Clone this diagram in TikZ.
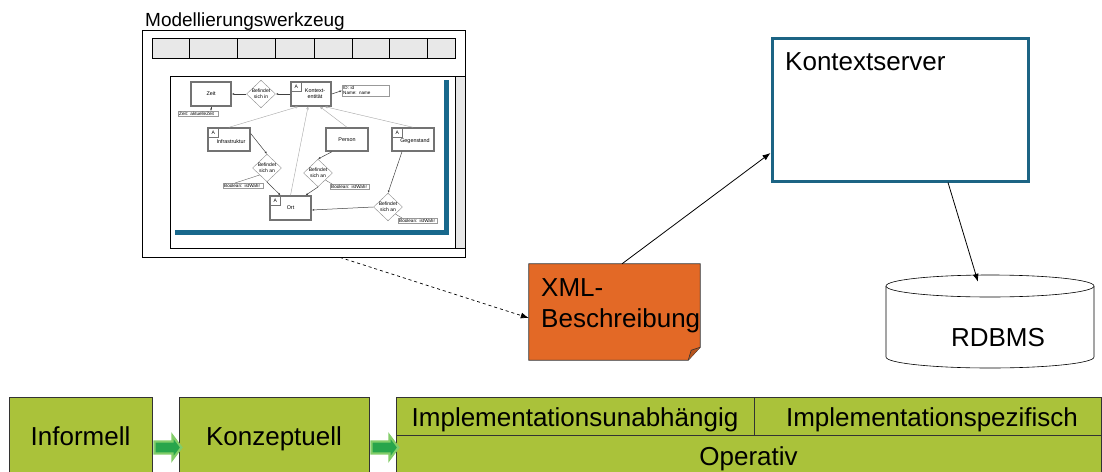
\documentclass[tikz,border=0pt]{standalone}
\usepackage{fontspec}
\setmainfont{Liberation Sans}
\usetikzlibrary{arrows.meta,calc,shapes.geometric}
\definecolor{olive}{RGB}{170,194,58}
\definecolor{xmlorange}{RGB}{227,105,38}
\definecolor{teal}{RGB}{28,100,132}
\definecolor{barblue}{RGB}{24,104,140}
\definecolor{toolgray}{RGB}{232,232,232}
\definecolor{arrlight}{RGB}{130,205,105}
\definecolor{arrdark}{RGB}{40,165,75}
\begin{document}
\begin{tikzpicture}[x=1pt,y=-1pt,
  bigtext/.style={font=\fontsize{26}{31}\selectfont},
  phase/.style={draw=black!80, fill=olive, line width=0.8pt, inner sep=0},
  mbox/.style={draw=black!55, line width=1.4pt, fill=white, inner sep=0,
    font=\fontsize{5.4}{6.2}\selectfont, align=center},
  mdia/.style={diamond, draw=black!45, line width=0.4pt, fill=white, inner sep=0,
    minimum width=29pt, minimum height=27pt, font=\fontsize{5}{5.6}\selectfont, align=center},
  mlab/.style={draw=black!40, line width=0.4pt, fill=white, inner sep=1pt,
    font=\fontsize{4.6}{5.4}\selectfont, align=left, anchor=north west},
  amark/.style={draw=black!55, line width=0.5pt, fill=white, minimum width=10pt,
    minimum height=9pt, inner sep=0, font=\fontsize{5}{5}\selectfont, anchor=north west},
  mline/.style={draw=black!75, line width=0.5pt, -{Latex[length=2.5pt,width=2pt]}},
  gline/.style={draw=black!35, line width=0.4pt, -{Triangle[open,length=2.5pt,width=2.5pt]}},
  blockarrow/.style={fill=arrdark, draw=arrlight, line width=2.2pt, line join=miter}
]
\useasboundingbox (0,0) rectangle (1102,471);

% ---------------- Modellierungswerkzeug window ----------------
\node[anchor=base west, inner sep=0, font=\fontsize{19}{22}\selectfont] (title) at (145,26) {Modellierungswerkzeug};
\node[draw=black, line width=0.8pt, minimum width=323pt, minimum height=227pt, inner sep=0] (win) at (303.5,143.5) {};
% toolbar
\draw[fill=toolgray, line width=0.8pt] (152,38) rectangle (455,58);
\foreach \xx in {189,237,275,314,352,389,427} \draw[line width=0.8pt] (\xx,38) -- (\xx,58);
% canvas + scrollbar
\draw[line width=0.8pt, fill=white] (170,76) rectangle (455,248);
\draw[line width=0.8pt, fill=toolgray] (455,76) rectangle (465,248);
% blue L
\fill[barblue] (444,80) rectangle (449,235);
\fill[barblue] (175,230) rectangle (449,235);

% mini diagram nodes
\node[mbox, minimum width=40pt, minimum height=24pt] (zeit) at (211,94) {Zeit};
\node[mlab, text width=38pt] (zlab) at (178,111) {Zeit: aktuelleZeit};
\node[mdia] (din) at (261,94) {Befindet\\sich in};
\node[mbox, minimum width=40pt, minimum height=24pt] (kont) at (311,94) {\hspace*{8pt}Kontext-\\\hspace*{8pt}entität};
\node[amark] (akont) at (291,82) {A};
\node[mlab, text width=45pt] (idb) at (342,85) {ID: id\\Name: name};
\node[mbox, minimum width=42pt, minimum height=23pt] (infra) at (229,139.5) {\\[1pt]\hspace*{4pt}Infrastruktur};
\node[amark] (ainfra) at (208,128) {A};
\node[mbox, minimum width=42pt, minimum height=23pt] (person) at (347,139.5) {Person};
\node[mbox, minimum width=42pt, minimum height=23pt] (geg) at (413,139.5) {\\[1pt]\hspace*{4pt}Gegenstand};
\node[amark] (ageg) at (392,128) {A};
\node[mdia] (dan1) at (267,168) {Befindet\\sich an};
\node[mlab, text width=38pt] (b1) at (223,183) {Boolean: istWahr};
\node[mdia] (dan2) at (318,173) {Befindet\\sich an};
\node[mlab, text width=37pt] (b2) at (330,184) {Boolean: istWahr};
\node[mbox, minimum width=41pt, minimum height=24pt] (ort) at (290.5,208) {Ort};
\node[amark] (aort) at (270,196) {A};
\node[mdia] (dan3) at (388,207) {Befindet\\sich an};
\node[mlab, text width=37pt] (b3) at (398,218) {Boolean: istWahr};

% mini diagram connectors
\draw[mline] (kont.west) -- (din.east);
\draw[mline] (din.west) -- (zeit.east);
\draw[mline] (zeit.south) -- (zeit.south |- zlab.north);
\draw[mline] (kont.east) -- (idb.west);
\draw[gline] (infra.north) -- ([xshift=-13pt]kont.south);
\draw[gline] (ort.north) -- ([xshift=-3pt]kont.south);
\draw[gline] (person.north) -- ([xshift=9pt]kont.south);
\draw[gline] (geg.north) -- ([xshift=14pt]kont.south);
\draw[mline] ([yshift=6pt]infra.east) -- (dan1.north);
\draw[mline] (dan1.south) -- ([xshift=-10pt]ort.north);
\draw[mline] ([xshift=-15pt]person.south) -- (dan2.north);
\draw[mline] (dan2.south) -- ([xshift=15pt]ort.north);
\draw[mline] ([xshift=-11pt]geg.south) -- (dan3.north);
\draw[mline] (dan3.west) -- ([yshift=-2pt]ort.east);
\draw[black!60, line width=0.4pt] (dan1.south west) -- ([xshift=12pt]b1.north west);
\draw[black!60, line width=0.4pt] (dan2.south east) -- ([xshift=2pt]b2.north west);
\draw[black!60, line width=0.4pt] (dan3.south east) -- ([xshift=4pt]b3.north west);

% ---------------- XML description ----------------
\node[minimum width=171pt, minimum height=96pt, inner sep=0] (xml) at (614.5,312) {};
\draw[fill=xmlorange, draw=black!80, line width=0.8pt]
  (xml.north west) -- (xml.north east) -- ([yshift=13pt]xml.south east)
  -- ([xshift=-12pt]xml.south east) -- (xml.south west) -- cycle;
\draw[fill=xmlorange!80!black, draw=black!80, line width=0.6pt]
  ([yshift=13pt]xml.south east) -- ([xshift=-9pt,yshift=10pt]xml.south east) -- ([xshift=-12pt]xml.south east);
\node[bigtext, anchor=north west, align=left, inner sep=0] (xmltext) at (541,278) {XML-\\Beschreibung};

% ---------------- Kontextserver ----------------
\node[draw=teal, line width=3pt, fill=white, minimum width=256pt, minimum height=143pt, inner sep=0] (ks) at (900,109.5) {};
\node[bigtext, anchor=base west, inner sep=0] (kstext) at (785,70.5) {Kontextserver};

% ---------------- RDBMS cylinder ----------------
\node[minimum width=208pt, minimum height=93pt, inner sep=0] (db) at (990,321.5) {};
\draw[fill=white, line width=0.6pt] (886,286) -- (886,357) arc[start angle=180, end angle=360, x radius=104pt, y radius=11pt] -- (1094,286);
\draw[fill=white, line width=0.6pt] (990,286) ellipse [x radius=104pt, y radius=11pt];
\node[bigtext, anchor=base, inner sep=0] (dbtext) at (998,346) {RDBMS};

% ---------------- connectors ----------------
\draw[dashed, line width=0.7pt, -{Latex[length=8pt,width=6pt]}] ([xshift=36.5pt]win.south) -- ([yshift=-6pt]xml.west);
\draw[line width=0.8pt, -{Latex[length=8pt,width=6pt]}] ([xshift=7.5pt]xml.north) -- ([yshift=-43.5pt]ks.west);
\draw[line width=0.8pt, -{Latex[length=8pt,width=6pt]}] ([xshift=48pt]ks.south) -- ([xshift=-12pt,yshift=-7pt]db.north);

% ---------------- bottom phases ----------------
\node[phase, minimum width=143pt, minimum height=77pt] (inf) at (80.5,435.5) {};
\node[bigtext, anchor=base, inner sep=0] at (80.5,445) {Informell};
\node[phase, minimum width=190pt, minimum height=77pt] (konz) at (274,435.5) {};
\node[bigtext, anchor=base, inner sep=0] at (274,445) {Konzeptuell};
\node[phase, minimum width=705pt, minimum height=38pt] (impl) at (748.5,416) {};
\node[phase, minimum width=705pt, minimum height=39pt] (oper) at (748.5,454.5) {};
\draw[line width=0.8pt, black!80] (754,397) -- (754,435);
\node[bigtext, anchor=base, inner sep=0] (iu) at (575,426.5) {Implementationsunabhängig};
\node[bigtext, anchor=base, inner sep=0] (is) at (932,426.5) {Implementationspezifisch};
\node[bigtext, anchor=base, inner sep=0] (op) at (748.5,465) {Operativ};

% green block arrows
\draw[blockarrow] ([xshift=2pt,yshift=-6pt]inf.east) -- ++(18,0) -- ++(0,-6) -- ++(9,12) -- ++(-9,12) -- ++(0,-6) -- ++(-18,0) -- cycle;
\draw[blockarrow] ([xshift=2pt,yshift=-6pt]konz.east) -- ++(18,0) -- ++(0,-6) -- ++(9,12) -- ++(-9,12) -- ++(0,-6) -- ++(-18,0) -- cycle;
\end{tikzpicture}
\end{document}
